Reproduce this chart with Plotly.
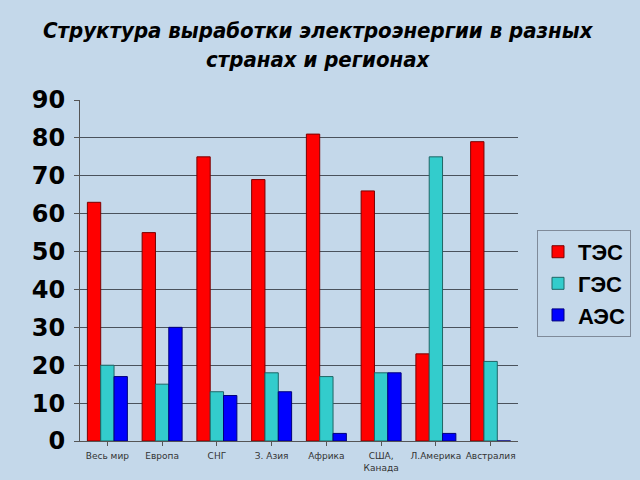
import plotly.graph_objects as go

categories = ["Весь мир", "Европа", "СНГ", "З. Азия", "Африка", "США,<br>Канада", "Л.Америка", "Австралия"]
tes = [63, 55, 75, 69, 81, 66, 23, 79]
ges = [20, 15, 13, 18, 17, 18, 75, 21]
aes = [17, 30, 12, 13, 2, 18, 2, 0]
y_ticks = [0, 10, 20, 30, 40, 50, 60, 70, 80, 90]

fig = go.Figure()
fig.add_trace(go.Bar(name="ТЭС", x=categories, y=tes, marker=dict(color="#ff0000", line=dict(color="#7a0000", width=1))))
fig.add_trace(go.Bar(name="ГЭС", x=categories, y=ges, marker=dict(color="#33cccc", line=dict(color="#1f6666", width=1))))
fig.add_trace(go.Bar(name="АЭС", x=categories, y=aes, marker=dict(color="#0000ff", line=dict(color="#00007a", width=1))))

W_PLOT = 560.0
fig.update_layout(
    width=640, height=480,
    paper_bgcolor="#c4d8ea",
    plot_bgcolor="#c4d8ea",
    barmode="group", bargap=0.27, bargroupgap=0,
    margin=dict(l=80, r=0, t=100, b=39),
    annotations=[dict(
        text="<b><i>Структура выработки электроэнергии в разных<br>странах и регионах</i></b>",
        xref="paper", yref="paper", x=(318 - 80) / W_PLOT, y=1.162, xanchor="center", yanchor="middle",
        showarrow=False,
        font=dict(family="DejaVu Sans Condensed, Liberation Sans Narrow, Arial Narrow", size=22, color="#000000"),
    )],
    legend=dict(
        x=(537 - 80) / W_PLOT, y=0.619, xanchor="left", yanchor="top",
        bgcolor="rgba(0,0,0,0)", bordercolor="#7f8a99", borderwidth=1,
        font=dict(family="Liberation Sans, Arial", size=22, color="#000000", weight="bold"),
        itemwidth=30, tracegroupgap=4,
    ),
    showlegend=True,
)
fig.update_xaxes(
    domain=[0, (518 - 80) / W_PLOT],
    tickfont=dict(family="DejaVu Sans, Verdana", size=9, color="#333333"),
    tickangle=0,
    showline=True, linecolor="#555555", ticks="outside", ticklen=4, tickcolor="#555555",
    showgrid=False, ticklabelstandoff=2, automargin=False,
)
fig.update_yaxes(
    range=[0, 90], tickvals=y_ticks,
    tickfont=dict(family="DejaVu Sans, Verdana", size=24, color="#000000", weight="bold"),
    showgrid=True, gridcolor="#4a525c", gridwidth=1,
    showline=True, linecolor="#555555", ticks="outside", ticklen=5, tickcolor="#555555",
    zeroline=False, ticklabelstandoff=4, automargin=False,
)
fig.write_html("out.html")
